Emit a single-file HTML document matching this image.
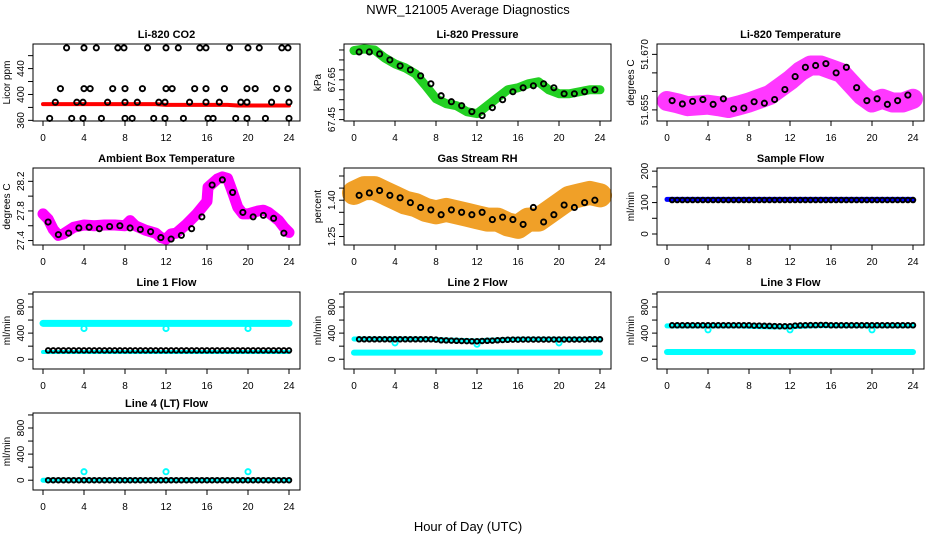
<!DOCTYPE html>
<html><head><meta charset="utf-8"><style>
html,body{margin:0;padding:0;background:#fff;}
svg{display:block;font-family:"Liberation Sans",sans-serif;}
</style></head><body>
<svg id="chart" width="936" height="540" viewBox="0 0 936 540" xmlns="http://www.w3.org/2000/svg">
<text x="468" y="14" text-anchor="middle" font-size="13">NWR_121005  Average Diagnostics</text>
<text x="468" y="531" text-anchor="middle" font-size="13">Hour of Day (UTC)</text>
</svg>
<script>
// ---- data ----
const xTicks = [0,4,8,12,16,20,24];
const bandHours = [0,1,2,3,4,5,6,7,8,9,10,11,12,13,14,15,16,17,18,19,20,21,22,23,24];
const blackHours = [0.5,1.5,2.5,3.5,4.5,5.5,6.5,7.5,8.5,9.5,10.5,11.5,12.5,13.5,14.5,15.5,16.5,17.5,18.5,19.5,20.5,21.5,22.5,23.5];
const halfHours = [0.5,1,1.5,2,2.5,3,3.5,4,4.5,5,5.5,6,6.5,7,7.5,8,8.5,9,9.5,10,10.5,11,11.5,12,12.5,13,13.5,14,14.5,15,15.5,16,16.5,17,17.5,18,18.5,19,19.5,20,20.5,21,21.5,22,22.5,23,23.5,24];

// CO2
const co2Band = [385,385,385,385,385,385,385,385,385,385,385,385,384,384,384,384,384,384,384,383,383,383,383,383,383];
const co2HighHours = [2.3,4.0,5.2,7.3,7.9,10.2,12.0,13.2,15.3,15.9,18.2,20.0,21.1,23.3,23.9];
const co2HighVals = [472,472,472,472,472,472,472,472,472,472,472,472,472,472,472];
const co2MidHours = [1.7,4.0,4.6,6.8,8.0,9.7,12.0,12.6,14.8,15.9,17.7,19.9,20.7,22.8,23.9];
const co2MidVals = [409,409,409,409,409,409,409,409,409,409,409,409,409,409,409];
const co2LowHours = [1.2,3.3,3.9,6.3,8.0,9.2,11.3,11.9,14.3,15.9,17.2,19.3,19.9,22.3,24.0];
const co2LowVals = [388,388,388,388,388,388,388,388,388,388,388,388,388,388,388];
const co2MinHours = [0.65,2.8,3.9,5.7,8.0,8.7,10.8,11.9,13.7,16.1,16.6,18.8,19.9,21.7,24.0];
const co2MinVals = [363,363,363,363,363,363,363,363,363,363,363,363,363,363,363];

// Pressure
const presBand = [67.797,67.805,67.80,67.76,67.73,67.71,67.68,67.62,67.555,67.53,67.52,67.49,67.48,67.52,67.56,67.60,67.61,67.63,67.64,67.60,67.58,67.58,67.59,67.60,67.60];
const presBlack = [67.79,67.79,67.78,67.75,67.72,67.70,67.67,67.63,67.57,67.54,67.52,67.49,67.47,67.51,67.55,67.59,67.61,67.62,67.63,67.61,67.58,67.58,67.59,67.60];

// Li-820 temperature
const ltBand = [51.6574,51.6568,51.656,51.6562,51.6564,51.656,51.6555,51.6562,51.657,51.658,51.659,51.661,51.663,51.6654,51.667,51.667,51.666,51.665,51.662,51.659,51.657,51.658,51.657,51.657,51.658];
const ltBlack = [51.6575,51.6566,51.6573,51.6578,51.6565,51.658,51.6553,51.6555,51.6572,51.6568,51.6578,51.6605,51.664,51.6665,51.667,51.6675,51.665,51.6665,51.661,51.6575,51.658,51.6565,51.6575,51.659];

// Ambient box temperature
const ambHours = [0,0.5,1,1.5,2,3,4,5,6,7,8,8.5,9,10,11,11.5,12,12.5,13,14,15,16,16.1,17,17.5,18,18.5,19,19.5,20,21,21.5,22,23,23.5,24];
const ambBand = [27.76,27.69,27.55,27.47,27.49,27.58,27.61,27.60,27.61,27.61,27.60,27.67,27.60,27.54,27.50,27.44,27.42,27.49,27.50,27.62,27.76,27.93,28.12,28.23,28.26,28.24,28.05,27.85,27.76,27.76,27.80,27.81,27.78,27.67,27.58,27.51];
const ambBlack = [27.65,27.48,27.50,27.57,27.58,27.56,27.59,27.60,27.57,27.55,27.52,27.44,27.42,27.47,27.56,27.72,28.15,28.22,28.05,27.78,27.72,27.74,27.70,27.50];

// Gas stream RH
const rhBand = [1.43,1.45,1.45,1.43,1.41,1.39,1.38,1.36,1.35,1.36,1.35,1.34,1.33,1.32,1.32,1.30,1.29,1.32,1.32,1.35,1.38,1.41,1.42,1.43,1.42];
const rhBlack = [1.42,1.43,1.44,1.42,1.41,1.39,1.37,1.36,1.34,1.36,1.35,1.34,1.35,1.32,1.33,1.32,1.30,1.37,1.31,1.34,1.38,1.37,1.39,1.40];

// Sample flow
const sampleBand = [110,110,110,110,110,110,110,110,110,110,110,110,110,110,110,110,110,110,110,110,110,110,110,110,110];
const sampleBlack = [108,108,108,108,108,108,108,108,108,108,108,108,108,108,108,108,108,108,108,108,108,108,108,108,108,108,108,108,108,108,108,108,108,108,108,108,108,108,108,108,108,108,108,108,108,108,108,108];

// Line flows
const dipHours = [4,12,20];
const l1High = [550,550,550,550,550,550,550,550,550,550,550,550,550,550,550,550,550,550,550,550,550,550,550,550,550];
const l1Dips = [470,470,470];
const l1Low = [110,110,110,110,110,110,110,110,110,110,110,110,110,110,110,110,110,110,110,110,110,110,110,110,110];
const l1Black = [135,135,135,135,135,135,135,135,135,135,135,135,135,135,135,135,135,135,135,135,135,135,135,135,135,135,135,135,135,135,135,135,135,135,135,135,135,135,135,135,135,135,135,135,135,135,135,135];
const l2High = [310,310,310,310,310,310,310,310,300,295,290,285,280,290,295,300,305,305,305,305,305,305,305,305,305];
const l2Dips = [250,230,250];
const l2Low = [100,100,100,100,100,100,100,100,100,100,100,100,100,100,100,100,100,100,100,100,100,100,100,100,100];
const l2Black = [305,305,305,305,305,305,305,305,305,305,305,305,305,305,305,300,290,288,285,282,280,278,275,275,280,282,285,290,295,298,300,300,302,302,302,302,302,302,302,302,302,302,302,302,302,305,305,305];
const l3High = [510,510,510,510,510,510,510,510,505,500,495,495,495,505,510,515,515,515,515,515,515,515,515,515,515];
const l3Dips = [450,450,450];
const l3Low = [110,110,110,110,110,110,110,110,110,110,110,110,110,110,110,110,110,110,110,110,110,110,110,110,110];
const l3Black = [520,520,520,520,520,520,520,520,520,520,520,520,520,520,520,520,515,515,512,510,508,505,505,505,515,518,520,522,522,525,525,520,520,520,520,520,520,520,520,520,520,520,520,520,520,520,520,520];
const l4Base = [0,0,0,0,0,0,0,0,0,0,0,0,0,0,0,0,0,0,0,0,0,0,0,0,0];
const l4Spikes = [130,130,130];
const l4Black = [0,0,0,0,0,0,0,0,0,0,0,0,0,0,0,0,0,0,0,0,0,0,0,0,0,0,0,0,0,0,0,0,0,0,0,0,0,0,0,0,0,0,0,0,0,0,0,0];

// ---- drawing ----
const svg = document.getElementById('chart');
const NS = 'http://www.w3.org/2000/svg';
function mk(tag, attrs, parent){
  const e = document.createElementNS(NS, tag);
  for (const k in attrs) e.setAttribute(k, attrs[k]);
  (parent || svg).appendChild(e);
  return e;
}
const colL = [33,344,657], rowT = [44,168,292,413], W = 267, H = 77;

function makePanel(col,row,title,ytitle,ylim,yticks,ylabels,key){
  const left = colL[col], top = rowT[row];
  const g = mk('g',{});
  
  
  const sx = h => left + 10 + h/24*246;
  const sy = v => top + H - (v - ylim[0])/(ylim[1]-ylim[0])*H;
  const t = mk('text',{x:left+W/2, y:top-6, 'text-anchor':'middle','font-size':'11','font-weight':'bold'},g);
  t.textContent = title;
  
  
  const yt = mk('text',{x:0,y:0,transform:`translate(${left-23},${top+H/2}) rotate(-90)`,'text-anchor':'middle','font-size':'10'},g);
  yt.textContent = ytitle;
  
  
  const marks = mk('g',{},g);
  
  
  const box = mk('rect',{x:left,y:top,width:W,height:H,fill:'none',stroke:'#000','stroke-width':1},g);
  
  
  xTicks.forEach(h=>{
    mk('line',{x1:sx(h),x2:sx(h),y1:top+H,y2:top+H+5,stroke:'#000'},g);
    const l = mk('text',{x:sx(h),y:top+H+20,'text-anchor':'middle','font-size':'10'},g);
    l.textContent = h;
    
    
  });
  yticks.forEach(v=>{
    mk('line',{x1:left-5,x2:left,y1:sy(v),y2:sy(v),stroke:'#000'},g);
  });
  ylabels.forEach(v=>{
    const l = mk('text',{x:0,y:0,transform:`translate(${left-9},${sy(v)}) rotate(-90)`,'text-anchor':'middle','font-size':'10'},g);
    l.textContent = v;
    
    
  });
  return {sx,sy,marks};
}
function band(p,hours,vals,color,width,name,opacity){
  const pts = hours.map((h,i)=>p.sx(h)+','+p.sy(vals[i])).join(' ');
  const e = mk('polyline',{points:pts,fill:'none',stroke:color,'stroke-width':width,'stroke-linecap':'round','stroke-linejoin':'round',opacity:opacity||1},p.marks);
  
  
}
function pts(p,hours,vals,color,name,r){
  hours.forEach((h,i)=>{
    const c = mk('circle',{cx:p.sx(h),cy:p.sy(vals[i]),r:r||2.6,fill:'none',stroke:color,'stroke-width':1.9},p.marks);
    
    
  });
}

// CO2
let p = makePanel(0,0,'Li-820 CO2','Licor ppm',[359,478],[360,380,400,420,440,460],[360,400,440],'co2');
band(p,bandHours,co2Band,'#ff0000',4,'co2-band');
pts(p,co2HighHours,co2HighVals,'#000','co2-point');
pts(p,co2MidHours,co2MidVals,'#000','co2-point');
pts(p,co2LowHours,co2LowVals,'#000','co2-point');
pts(p,co2MinHours,co2MinVals,'#000','co2-point');

// Pressure
p = makePanel(1,0,'Li-820 Pressure','kPa',[67.443,67.83],[67.45,67.5,67.55,67.6,67.65,67.7,67.75,67.8],['67.45','67.65'],'pressure');
band(p,bandHours,presBand,'#22d022',9,'pressure-band');
pts(p,blackHours,presBlack,'#000','pressure-point');

// Li temp
p = makePanel(2,0,'Li-820 Temperature','degrees C',[51.652,51.6728],[51.655,51.66,51.665,51.67],['51.655','51.670'],'li-temp');
band(p,bandHours,ltBand,'#ff22ff',20,'li-temp-band',0.9);
pts(p,blackHours,ltBlack,'#000','li-temp-point');

// Ambient
p = makePanel(0,1,'Ambient Box Temperature','degrees C',[27.34,28.38],[27.4,27.6,27.8,28.0,28.2],['27.4','27.8','28.2'],'ambient');
band(p,ambHours,ambBand,'#ff00ff',11,'ambient-band');
pts(p,blackHours,ambBlack,'#000','ambient-point');

// RH
p = makePanel(1,1,'Gas Stream RH','percent',[1.215,1.533],[1.25,1.3,1.35,1.4,1.45,1.5],['1.25','1.40'],'rh');
band(p,bandHours,rhBand,'#f0a028',24,'rh-band');
pts(p,blackHours,rhBlack,'#000','rh-point');

// Sample flow
p = makePanel(2,1,'Sample Flow','ml/min',[-35,210],[0,50,100,150,200],[0,100,200],'sample-flow');
band(p,bandHours,sampleBand,'#0000ff',5,'sample-flow-band');
pts(p,halfHours,sampleBlack,'#000','sample-flow-point',2.3);

const flowTicks = [0,200,400,600,800,1000], flowLabels = [0,400,800], flowLim = [-150,1030];
// Line 1
p = makePanel(0,2,'Line 1 Flow','ml/min',flowLim,flowTicks,flowLabels,'line1-flow');
band(p,bandHours,l1High,'#00ffff',7,'line1-high-band');
pts(p,dipHours,l1Dips,'#00ffff','line1-dip');
band(p,bandHours,l1Low,'#00ffff',4,'line1-low-band');
pts(p,halfHours,l1Black,'#000','line1-point',2.3);
// Line 2
p = makePanel(1,2,'Line 2 Flow','ml/min',flowLim,flowTicks,flowLabels,'line2-flow');
band(p,bandHours,l2High,'#00ffff',5,'line2-high-band');
pts(p,dipHours,l2Dips,'#00ffff','line2-dip');
band(p,bandHours,l2Low,'#00ffff',6,'line2-low-band');
pts(p,halfHours,l2Black,'#000','line2-point',2.3);
// Line 3
p = makePanel(2,2,'Line 3 Flow','ml/min',flowLim,flowTicks,flowLabels,'line3-flow');
band(p,bandHours,l3High,'#00ffff',5,'line3-high-band');
pts(p,dipHours,l3Dips,'#00ffff','line3-dip');
band(p,bandHours,l3Low,'#00ffff',6,'line3-low-band');
pts(p,halfHours,l3Black,'#000','line3-point',2.3);
// Line 4
p = makePanel(0,3,'Line 4 (LT) Flow','ml/min',flowLim,flowTicks,flowLabels,'line4-flow');
band(p,bandHours,l4Base,'#00ffff',5,'line4-band');
pts(p,dipHours,l4Spikes,'#00ffff','line4-spike');
pts(p,halfHours,l4Black,'#000','line4-point',2.3);
</script>
</body></html>
